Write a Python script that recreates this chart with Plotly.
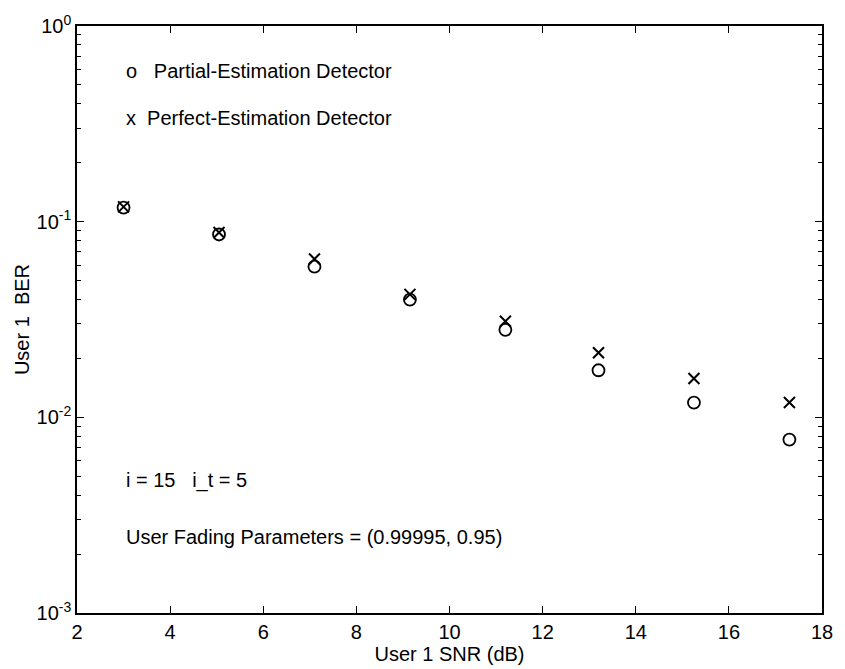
import plotly.graph_objects as go

snr = [3.0, 5.05, 7.1, 9.15, 11.2, 13.2, 15.25, 17.3]
ber_partial = [0.118, 0.086, 0.0589, 0.040, 0.028, 0.0174, 0.0119, 0.0077]
ber_perfect = [0.119, 0.088, 0.0645, 0.0425, 0.031, 0.0214, 0.0158, 0.0119]
x_ticks = [2, 4, 6, 8, 10, 12, 14, 16, 18]
y_ticks = [1e-3, 1e-2, 1e-1, 1e0]
y_ticktext = ["10<sup>-3</sup>", "10<sup>-2</sup>", "10<sup>-1</sup>", "10<sup>0</sup>"]
y_minor = [m * 10.0 ** d for d in (-3, -2, -1) for m in range(2, 10)]

font = "Liberation Sans, Arial, Helvetica, sans-serif"

fig = go.Figure()
fig.add_trace(go.Scatter(x=snr, y=ber_partial, mode="markers", name="Partial-Estimation Detector",
                         marker=dict(symbol="circle-open", size=12, color="black", line=dict(width=1.8))))
fig.add_trace(go.Scatter(x=snr, y=ber_perfect, mode="markers", name="Perfect-Estimation Detector",
                         marker=dict(symbol="x-thin-open", size=11, color="black", line=dict(width=2, color="black"))))

annos = [
    (125, 67, "o   Partial-Estimation Detector"),
    (125, 114, "x  Perfect-Estimation Detector"),
    (125, 482, "i = 15   i_t = 5"),
    (125, 539, "User Fading Parameters = (0.99995, 0.95)"),
]
for px, py, t in annos:
    fig.add_annotation(x=(px - 77) / (833 - 77), y=1 - (py - 21) / (616 - 21), xref="paper", yref="paper",
                       text=t, showarrow=False, xanchor="left", yanchor="middle",
                       font=dict(family=font, size=20, color="black"))

fig.update_layout(
    width=845, height=669,
    margin=dict(l=77, r=12, t=21, b=53),
    paper_bgcolor="white", plot_bgcolor="white",
    showlegend=False,
    font=dict(family=font, size=18, color="black"),
    xaxis=dict(range=[2, 18], tickvals=x_ticks, ticks="inside", ticklen=7, tickwidth=1.2, tickcolor="black",
               showline=True, linecolor="black", linewidth=1.5, mirror="ticks", showgrid=False, zeroline=False,
               title=dict(text="User 1 SNR (dB)", font=dict(size=20), standoff=0),
               tickfont=dict(size=20)),
    yaxis=dict(type="log", range=[-3, 0], tickvals=y_ticks, ticktext=y_ticktext, ticks="inside", ticklen=7,
               tickwidth=1.2, tickcolor="black", showline=True, linecolor="black", linewidth=1.5, mirror="ticks",
               showgrid=False, zeroline=False, tickfont=dict(size=20),
               minor=dict(tickvals=y_minor, ticks="inside", ticklen=4, tickcolor="black", tickwidth=1, showgrid=False),
               title=dict(text="User 1  BER", font=dict(size=20), standoff=2)),
)

fig.write_html("out.html")
